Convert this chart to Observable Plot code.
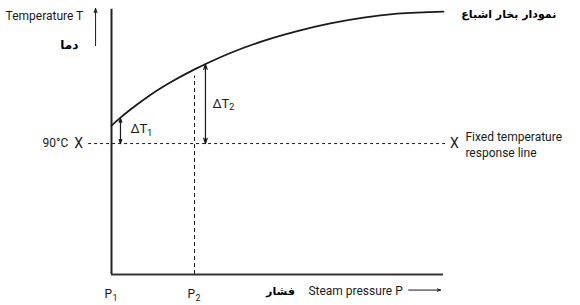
<!DOCTYPE html>
<html>
<head>
<meta charset="utf-8">
<script src="https://cdn.jsdelivr.net/npm/d3@7"></script>
<script src="https://cdn.jsdelivr.net/npm/@observablehq/plot@0.6"></script>
<style>
  html, body { margin: 0; padding: 0; background: #fff; }
  #chart svg { display: block; }
</style>
</head>
<body>
<div id="chart"></div>
<script>
// Saturation curve (pressure units 0..100, temperature units 0..100)
const pressure    = [0, 2.7, 7.2, 11.7, 17.8, 25, 29.8, 35.8, 45.8, 56, 65.9, 75.9, 86.1, 100];
const temperature = [56.4, 59.4, 63.9, 68.0, 72.8, 77.7, 80.6, 83.9, 88.5, 92.2, 95.1, 97.3, 98.8, 99.6];

// Fixed temperature response line
const fixedTemp = 49.6;
const fixedLineExtent = [-6.9, 101.2];

// Pressure points P1, P2
const pressurePoints = [0, 25];
const pressureNames = ["P", "P"];
const pressureSubs = ["1", "2"];

// Delta T arrows: x position, top temperature
const deltaX = [2.7, 28.3];
const deltaTop = [59.2, 79.7];
const deltaSubs = ["1", "2"];
const deltaLabelX = [5.7, 30.4];
const deltaLabelY = [55.3, 64.8];

// Text labels
const curveLabel = "نمودار بخار اشباع";
const tempLabelFa = "دما";
const pressLabelFa = "فشار";
const tempLabel = "Temperature T";
const pressLabel = "Steam pressure P";
const fixedLabel = ["Fixed temperature", "response line"];
const tempValueLabel = "90°C";

const font = "Roboto, 'Liberation Sans', sans-serif";
const faFont = "'DejaVu Sans', sans-serif";
const ink = "#1a1a1a";
const fs = 12;

const curve = pressure.map((p, i) => ({p, t: temperature[i]}));
const deltas = deltaX.map((x, i) => ({x, top: deltaTop[i], mid: (deltaTop[i] + fixedTemp) / 2, sub: deltaSubs[i], lx: deltaLabelX[i], ly: deltaLabelY[i]}));
const pts = pressurePoints.map((p, i) => ({p, name: pressureNames[i], sub: pressureSubs[i], t: curve[pressure.indexOf(p)].t}));

const chart = Plot.plot({
  width: 580,
  height: 305,
  marginLeft: 111,
  marginRight: 137,
  marginTop: 10,
  marginBottom: 31,
  x: {domain: [0, 100], axis: null},
  y: {domain: [0, 100], axis: null},
  style: {background: "#fff", fontFamily: font},
  marks: [
    // fixed temperature dashed line
    Plot.ruleY([fixedTemp], {x1: fixedLineExtent[0], x2: fixedLineExtent[1], stroke: ink, strokeWidth: 1, strokeDasharray: "3,3"}),
    // vertical dashed at P2
    Plot.ruleX(pts.filter(d => d.p > 0), {x: "p", y1: 0, y2: d => d.t - 2.5, stroke: ink, strokeWidth: 1, strokeDasharray: "4,3"}),
    // axes
    Plot.ruleX([0], {y1: 0, y2: 100.5, stroke: "#222", strokeWidth: 2}),
    Plot.ruleY([0], {x1: 0, x2: 100, stroke: "#333", strokeWidth: 2}),
    // saturation curve
    Plot.line(curve, {x: "p", y: "t", curve: "monotone-x", stroke: ink, strokeWidth: 1.8}),
    // delta arrows (double headed)
    Plot.arrow(deltas, {x: "x", y1: "mid", y2: "top", stroke: ink, strokeWidth: 1.2, headLength: 7, headAngle: 36}),
    Plot.arrow(deltas, {x: "x", y1: "mid", y2: fixedTemp, stroke: ink, strokeWidth: 1.2, headLength: 7, headAngle: 36}),
    Plot.text(deltas, {x: "lx", y: "ly", text: () => "ΔT", textAnchor: "start", fontSize: 13, fill: ink}),
    Plot.text(deltas, {x: "lx", y: "ly", text: "sub", textAnchor: "start", fontSize: 9.5, dx: 16.5, dy: 4, fill: ink}),
    // temperature arrow
    Plot.arrow([{x: -4.8, y1: 86.7, y2: 100.8}], {x: "x", y1: "y1", y2: "y2", stroke: ink, strokeWidth: 1, headLength: 7, headAngle: 36}),
    Plot.text([tempLabel], {x: -31.9, y: 97.7, text: d => d, textAnchor: "start", fontSize: fs, fill: ink}),
    Plot.text([tempLabelFa], {x: -12.7, y: 86.7, text: d => d, textAnchor: "middle", fontSize: 12, fontWeight: "bold", fontFamily: faFont, fill: "#000"}),
    // curve label
    Plot.text([curveLabel], {x: 134, y: 98.5, text: d => d, textAnchor: "end", fontSize: 11, fontWeight: "bold", fontFamily: faFont, fill: "#000"}),
    // fixed temperature labels
    Plot.text([tempValueLabel], {x: -13, y: fixedTemp, text: d => d, textAnchor: "end", fontSize: fs, fill: ink}),
    Plot.text(["X"], {x: -9.9, y: fixedTemp, text: d => d, textAnchor: "middle", fontSize: 14, fill: ink}),
    Plot.text(["X"], {x: 103.3, y: fixedTemp, text: d => d, textAnchor: "middle", fontSize: 14, fill: ink}),
    Plot.text(fixedLabel, {x: 106.6, y: (d, i) => i === 0 ? 51.9 : 45.8, text: d => d, textAnchor: "start", fontSize: fs, fill: ink}),
    // pressure point labels
    Plot.text(pts, {x: "p", y: -7.6, text: "name", textAnchor: "start", dx: -7, fontSize: fs, fill: ink}),
    Plot.text(pts, {x: "p", y: -7.6, text: "sub", textAnchor: "start", dx: 1, dy: 4, fontSize: 9, fill: ink}),
    // x-axis label
    Plot.text([pressLabelFa], {x: 50.9, y: -6.6, text: d => d, textAnchor: "middle", fontSize: 11, fontWeight: "bold", fontFamily: faFont, fill: "#000"}),
    Plot.text([pressLabel], {x: 59.3, y: -6.4, text: d => d, textAnchor: "start", fontSize: fs, fill: ink}),
    Plot.arrow([{x1: 89.5, x2: 99.1, y: -5.9}], {x1: "x1", x2: "x2", y: "y", stroke: ink, strokeWidth: 1, headLength: 5, headAngle: 40})
  ]
});
document.getElementById("chart").appendChild(chart);
</script>
</body>
</html>
